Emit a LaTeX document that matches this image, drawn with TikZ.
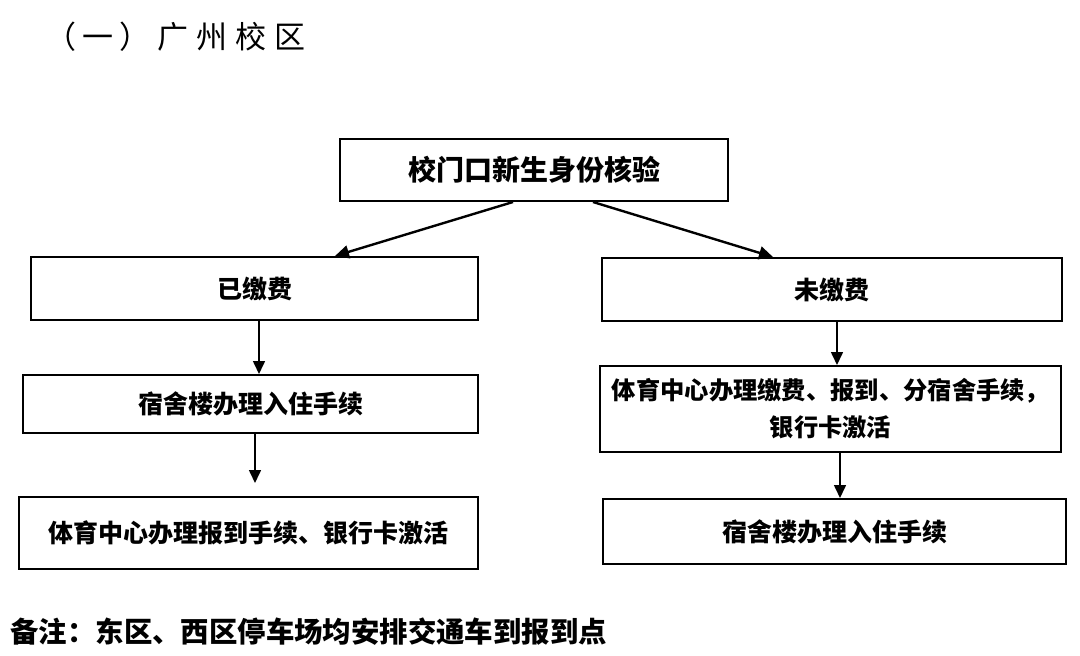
\documentclass[tikz,border=0pt]{standalone}
\usepackage{fontspec}
\setmainfont{Noto Sans CJK SC}
\usetikzlibrary{arrows.meta}
\begin{document}
\begin{tikzpicture}[x=1pt,y=-1pt,
  box/.style={draw=black,line width=2pt,inner sep=0pt,font=\fontsize{25}{37}\selectfont\bfseries},
  arr/.style={line width=1.6pt,-{Triangle[length=13pt,width=12pt]}},
  darr/.style={line width=2.4pt,-{Triangle[length=14pt,width=13pt]}}]
\useasboundingbox (0,0) rectangle (1080,656);
\fill[white] (0,0) rectangle (1080,656);
\node[anchor=west,font=\fontsize{31}{31}\selectfont] (title) at (42,37)
  {（\hspace{6pt}一\hspace{6pt}）\hspace{7pt}广\hspace{8pt}州\hspace{8pt}校\hspace{8pt}区};
\node[box,minimum width=388pt,minimum height=62pt,font=\fontsize{28}{28}\selectfont\bfseries] (top) at (534,170) {校门口新生身份核验};
\node[box,minimum width=447pt,minimum height=63pt] (paid) at (254.5,288.5) {已缴费};
\node[box,minimum width=455pt,minimum height=58pt] (l2) at (250.5,404) {宿舍楼办理入住手续};
\node[box,minimum width=459pt,minimum height=72pt] (l3) at (248.5,533) {体育中心办理报到手续、银行卡激活};
\node[box,minimum width=460pt,minimum height=63pt] (unpaid) at (832,289.5) {未缴费};
\node[box,minimum width=461pt,minimum height=86pt,align=center,font=\fontsize{24.3}{37}\selectfont\bfseries] (r2) at (830.5,409) {体育中心办理缴费、报到、分宿舍手续，\\银行卡激活};
\node[box,minimum width=463pt,minimum height=65pt] (r3) at (834.5,531.5) {宿舍楼办理入住手续};
\node[anchor=west,font=\fontsize{28.4}{29}\selectfont\bfseries] (note) at (7,632) {备注：东区、西区停车场均安排交通车到报到点};
\draw[darr] ([xshift=-21pt]top.south) -- ([xshift=80.5pt]paid.north);
\draw[darr] ([xshift=59pt]top.south) -- ([xshift=-59pt]unpaid.north);
\draw[arr] ([xshift=4.5pt]paid.south) -- ([xshift=8.5pt]l2.north);
\draw[arr,shorten >=13pt] ([xshift=4.5pt]l2.south) -- ([xshift=6.5pt]l3.north);
\draw[arr] ([xshift=5pt]unpaid.south) -- ([xshift=6.5pt]r2.north);
\draw[arr] ([xshift=9.5pt]r2.south) -- ([xshift=5.5pt]r3.north);
\end{tikzpicture}
\end{document}
